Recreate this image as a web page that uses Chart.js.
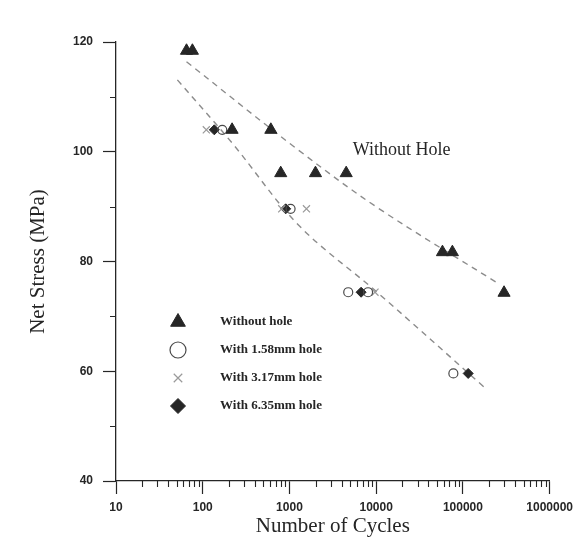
<!DOCTYPE html>
<html>
<head>
<meta charset="utf-8">
<script src="https://cdn.jsdelivr.net/npm/chart.js@4.4.1/dist/chart.umd.min.js"></script>
<style>
  html, body { margin: 0; padding: 0; background: #fff; }
  #wrap { width: 579px; height: 542px; }
</style>
</head>
<body>
<div id="wrap"><canvas id="fatigue" width="579" height="542"></canvas></div>
<script>
// cycles to failure and net stress (MPa) per specimen group
var plainCycles = [65, 76, 218, 610, 793, 1995, 4510, 58100, 75600, 298000];
var plainStress = [118.4, 118.4, 104, 104, 96.1, 96.1, 96.1, 81.7, 81.7, 74.3];
var hole158Cycles = [168, 1030, 4760, 8060, 77600];
var hole158Stress = [104, 89.6, 74.4, 74.4, 59.6];
var hole317Cycles = [110, 814, 1570, 9690];
var hole317Stress = [104, 89.6, 89.6, 74.4];
var hole635Cycles = [136, 905, 6700, 115000];
var hole635Stress = [104, 89.6, 74.4, 59.6];

// trend curves (upper: plain specimens, lower: all holed specimens)
var plainFitCycles = [65, 1270, 10500, 261000];
var plainFitStress = [116.4, 100.3, 89.75, 75.9];
var holeFitCycles = [51, 218, 1270, 10500, 176000];
var holeFitStress = [113.1, 101.6, 86.65, 74.26, 57.1];

var seriesNames = ['Without hole', 'With 1.58mm hole', 'With 3.17mm hole', 'With 6.35mm hole'];
var curveLabel = 'Without Hole';
var curveLabelAt = [19700, 100.3];

var xTickValues = [10, 100, 1000, 10000, 100000, 1000000];
var yTickValues = [40, 60, 80, 100, 120];
var yMinorTicks = [50, 70, 90, 110];
var xMinorTicks = [];
for (var d = 10; d < 1000000; d *= 10) {
    for (var k = 2; k <= 9; k++) xMinorTicks.push(k * d);
}

function pairs(xs, ys) {
    return xs.map(function (x, i) { return { x: x, y: ys[i] }; });
}

var INK = '#262626';

var markerStyles = [
    { pointStyle: 'triangle', radius: 7, legendRadius: 8.5, fill: INK, stroke: INK, width: 1 },
    { pointStyle: 'circle', radius: 4.5, legendRadius: 8, fill: 'rgba(255,255,255,0)', stroke: '#4a4a4a', width: 1.2 },
    { pointStyle: 'crossRot', radius: 5, legendRadius: 6, fill: '#9a9a9a', stroke: '#9a9a9a', width: 1.2 },
    { pointStyle: 'rectRot', radius: 5, legendRadius: 7.5, fill: INK, stroke: INK, width: 1 }
];

function scatterSet(name, xs, ys, st) {
    return {
        label: name,
        data: pairs(xs, ys),
        showLine: false,
        pointStyle: st.pointStyle,
        pointRadius: st.radius,
        backgroundColor: st.fill,
        borderColor: st.stroke,
        borderWidth: st.width,
        order: 1
    };
}

function curveSet(xs, ys) {
    return {
        label: 'fit',
        data: pairs(xs, ys),
        showLine: true,
        pointRadius: 0,
        borderColor: '#8c8c8c',
        borderWidth: 1.4,
        borderDash: [6, 5],
        tension: 0.35,
        fill: false,
        order: 5
    };
}

// short ticks between the labelled ones, legend box and curve caption
var decorPlugin = {
    id: 'decor',
    afterDraw: function (chart) {
        var ctx = chart.ctx;
        var xs = chart.scales.x, ys = chart.scales.y, area = chart.chartArea;
        ctx.save();
        ctx.strokeStyle = INK;
        ctx.lineWidth = 1.1;
        ctx.beginPath();
        xMinorTicks.forEach(function (v) {
            var px = Math.round(xs.getPixelForValue(v)) + 0.5;
            ctx.moveTo(px, area.bottom);
            ctx.lineTo(px, area.bottom + 6);
        });
        yMinorTicks.forEach(function (v) {
            var py = Math.round(ys.getPixelForValue(v)) + 0.5;
            ctx.moveTo(area.left, py);
            ctx.lineTo(area.left - 6, py);
        });
        ctx.stroke();

        // legend
        ctx.font = 'bold 13px "Liberation Serif"';
        ctx.textBaseline = 'middle';
        ctx.textAlign = 'left';
        seriesNames.forEach(function (name, i) {
            var st = markerStyles[i];
            var mx = area.left + 62, my = area.top + 280 + i * 28;
            ctx.fillStyle = st.fill;
            ctx.strokeStyle = st.stroke;
            ctx.lineWidth = st.width;
            Chart.helpers.drawPoint(ctx, { pointStyle: st.pointStyle, radius: st.legendRadius, rotation: 0, borderWidth: st.width }, mx, my);
            ctx.fillStyle = INK;
            ctx.fillText(name, area.left + 104, my);
        });

        // caption next to the upper curve
        ctx.font = '18px "Liberation Serif"';
        ctx.textAlign = 'center';
        ctx.fillStyle = INK;
        ctx.fillText(curveLabel, xs.getPixelForValue(curveLabelAt[0]), ys.getPixelForValue(curveLabelAt[1]));
        ctx.restore();
    }
};

var tickFont = { family: '"Liberation Sans", Arial, sans-serif', weight: 'bold', size: 12 };
var titleFont = { family: '"Liberation Serif", "Times New Roman", serif', size: 21 };

new Chart(document.getElementById('fatigue'), {
    type: 'scatter',
    data: {
        datasets: [
            scatterSet(seriesNames[0], plainCycles, plainStress, markerStyles[0]),
            scatterSet(seriesNames[1], hole158Cycles, hole158Stress, markerStyles[1]),
            scatterSet(seriesNames[2], hole317Cycles, hole317Stress, markerStyles[2]),
            scatterSet(seriesNames[3], hole635Cycles, hole635Stress, markerStyles[3]),
            curveSet(plainFitCycles, plainFitStress),
            curveSet(holeFitCycles, holeFitStress)
        ]
    },
    options: {
        responsive: false,
        animation: false,
        layout: { padding: { top: 42, right: 26, left: 0, bottom: 0 } },
        plugins: {
            legend: { display: false },
            tooltip: { enabled: false }
        },
        scales: {
            x: {
                type: 'logarithmic',
                min: 10,
                max: 1000000,
                afterBuildTicks: function (s) {
                    s.ticks = xTickValues.map(function (v) { return { value: v }; });
                },
                afterFit: function (s) { s.height = 61; },
                ticks: {
                    autoSkip: false,
                    maxRotation: 0,
                    padding: 6,
                    color: INK,
                    font: tickFont,
                    callback: function (v) { return String(v); }
                },
                grid: { drawOnChartArea: false, drawTicks: true, tickLength: 13, tickColor: INK, tickWidth: 1.2 },
                border: { color: INK, width: 1.3 },
                title: { display: true, text: 'Number of Cycles', color: INK, font: titleFont, padding: { top: 0, bottom: 3 } }
            },
            y: {
                min: 40,
                max: 120,
                afterBuildTicks: function (s) {
                    s.ticks = yTickValues.map(function (v) { return { value: v }; });
                },
                afterFit: function (s) { s.width = 116; },
                ticks: { padding: 10, color: INK, font: tickFont },
                grid: { drawOnChartArea: false, drawTicks: true, tickLength: 13, tickColor: INK, tickWidth: 1.2 },
                border: { color: INK, width: 1.3 },
                title: { display: true, text: 'Net Stress (MPa)', color: INK, font: titleFont, padding: { top: 26, bottom: 0 } }
            }
        }
    },
    plugins: [decorPlugin]
});
</script>
</body>
</html>
